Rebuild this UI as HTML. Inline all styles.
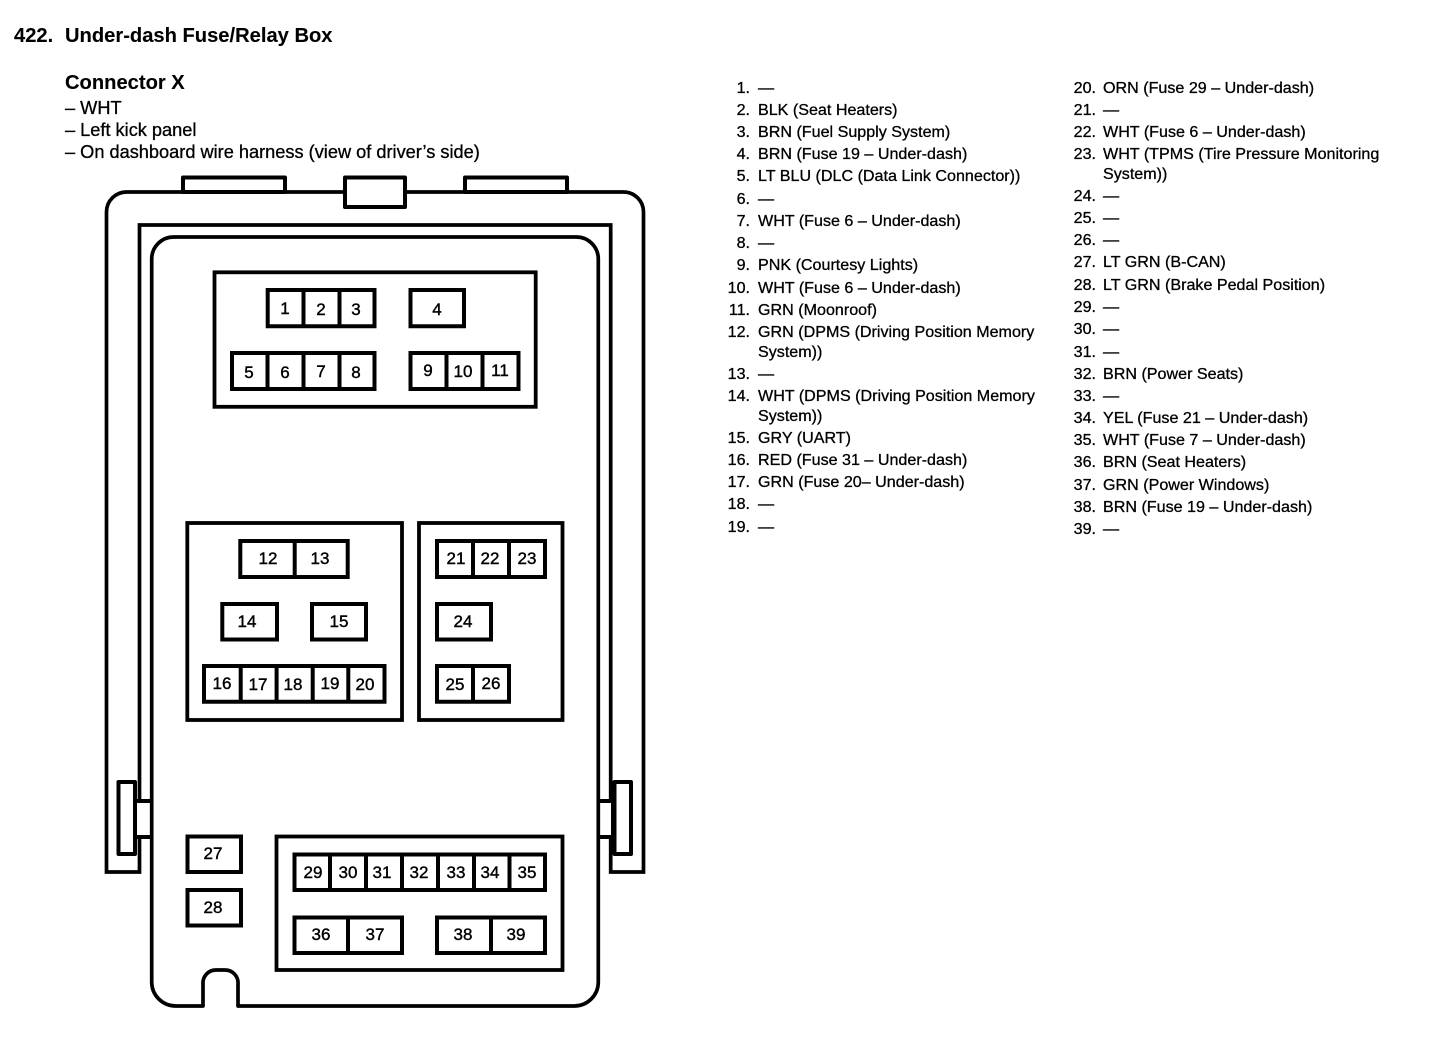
<!DOCTYPE html>
<html lang="en">
<head>
<meta charset="utf-8">
<title>422. Under-dash Fuse/Relay Box</title>
<style>
html,body{margin:0;padding:0;background:#fff;width:1440px;height:1040px;overflow:hidden}
svg{display:block}
text{font-family:"Liberation Sans",Arial,sans-serif;fill:#000;stroke:#000;stroke-width:.3px}
.l{font-size:16.1px}
.m{font-size:18.2px}
.n{font-size:16.1px;text-anchor:end}
.h{font-size:20.15px;font-weight:bold;stroke-width:.1px}
.p{font-size:17px;text-anchor:middle;stroke-width:.4px}
.s{fill:#fff;stroke:#000;stroke-width:3.7;stroke-linejoin:round}
.c{fill:#fff;stroke:#000;stroke-width:4;stroke-linejoin:round}
.d{fill:none;stroke:#000;stroke-width:4}
.g{fill:none;stroke:#000;stroke-width:3.8}
.o{fill:none;stroke:#000;stroke-width:3.7}
</style>
</head>
<body>
<svg width="1440" height="1040" viewBox="0 0 1440 1040" xmlns="http://www.w3.org/2000/svg">
<!-- Housing -->
<path class="c" d="M183 192V177.500H285V192Z"/>
<path class="c" d="M465 192V177.500H567V192Z"/>
<path class="o" d="M106.500 872V212A20 20 0 0 1 126.500 192H623.500A20 20 0 0 1 643.500 212V872H610.700V225H139.500V872Z"/>
<path class="c" d="M345 177.500H405V207H345Z"/>
<!-- Side clips -->
<rect class="c" x="135" y="801" width="17" height="36"/>
<rect class="c" x="598" y="801" width="15" height="36"/>
<rect class="c" x="118.500" y="782" width="16.500" height="72"/>
<rect class="c" x="614.500" y="782" width="16.500" height="72"/>
<!-- Inner panel -->
<path class="s" d="M151.700 259A22 22 0 0 1 173.700 237H576.300A22 22 0 0 1 598.300 259V982A24 24 0 0 1 574.300 1006H238V984A13 13 0 0 0 225 970H216A13 13 0 0 0 203 984V1006H175.700A24 24 0 0 1 151.700 982Z"/>
<!-- Groups -->
<rect class="g" x="214.500" y="272.300" width="321.200" height="134.500"/>
<rect class="g" x="187.300" y="523" width="214.700" height="197"/>
<rect class="g" x="419" y="523" width="143.500" height="197"/>
<rect class="g" x="276.500" y="836.500" width="286" height="133.500"/>
<!-- Connectors -->
<path class="d" d="M267.700 290H374.500V326.300H267.700ZM303.500 290V326.300M339.500 290V326.300"/>
<path class="d" d="M410.500 290H464V326.300H410.500Z"/>
<path class="d" d="M232 353H374.500V389H232ZM267.500 353V389M303.500 353V389M339.500 353V389"/>
<path class="d" d="M410.500 353H518.500V389H410.500ZM446.500 353V389M482.500 353V389"/>
<path class="d" d="M240.300 541H347.700V577H240.300ZM294.700 541V577"/>
<path class="d" d="M222.300 604H277V639.500H222.300Z"/>
<path class="d" d="M312 604H366V639.500H312Z"/>
<path class="d" d="M204 666H384.500V701.700H204ZM240.700 666V701.700M276.600 666V701.700M312.700 666V701.700M348.300 666V701.700"/>
<path class="d" d="M437 541H545V577H437ZM473 541V577M509 541V577"/>
<path class="d" d="M437 604H491V639.500H437Z"/>
<path class="d" d="M437 666H509V701.700H437ZM473 666V701.700"/>
<path class="d" d="M187.500 836.500H241V872H187.500Z"/>
<path class="d" d="M187.500 890H241V925.500H187.500Z"/>
<path class="d" d="M294.500 854.500H545V890H294.500ZM330 854.500V890M366 854.500V890M402 854.500V890M438 854.500V890M474 854.500V890M509.500 854.500V890"/>
<path class="d" d="M294.500 917.500H402V953H294.500ZM348 917.500V953"/>
<path class="d" d="M437 917.500H545V953H437ZM491 917.500V953"/>
<!-- Pin numbers -->
<g>
<text class="p" x="285" y="314">1</text><text class="p" x="321" y="315">2</text><text class="p" x="356" y="315">3</text><text class="p" x="437" y="315">4</text>
<text class="p" x="249" y="378">5</text><text class="p" x="285" y="378">6</text><text class="p" x="321" y="377">7</text><text class="p" x="356" y="378">8</text>
<text class="p" x="428" y="376">9</text><text class="p" x="463" y="377">10</text><text class="p" x="500" y="376">11</text>
<text class="p" x="268" y="564">12</text><text class="p" x="320" y="564">13</text><text class="p" x="247" y="627">14</text><text class="p" x="339" y="627">15</text>
<text class="p" x="222" y="689">16</text><text class="p" x="258" y="690">17</text><text class="p" x="293" y="690">18</text><text class="p" x="330" y="689">19</text><text class="p" x="365" y="690">20</text>
<text class="p" x="456" y="564">21</text><text class="p" x="490" y="564">22</text><text class="p" x="527" y="564">23</text><text class="p" x="463" y="627">24</text>
<text class="p" x="455" y="690">25</text><text class="p" x="491" y="689">26</text>
<text class="p" x="213" y="859">27</text><text class="p" x="213" y="913">28</text>
<text class="p" x="313" y="878">29</text><text class="p" x="348" y="878">30</text><text class="p" x="382" y="878">31</text><text class="p" x="419" y="878">32</text><text class="p" x="456" y="878">33</text><text class="p" x="490" y="878">34</text><text class="p" x="527" y="878">35</text>
<text class="p" x="321" y="940">36</text><text class="p" x="375" y="940">37</text><text class="p" x="463" y="940">38</text><text class="p" x="516" y="940">39</text>
</g>
<!-- Headings -->
<text class="h" x="14" y="42">422.</text>
<text class="h" x="65" y="42">Under-dash Fuse/Relay Box</text>
<text class="h" x="65" y="89">Connector X</text>
<text class="m" x="65" y="114">– WHT</text>
<text class="m" x="65" y="136">– Left kick panel</text>
<text class="m" x="65" y="158">– On dashboard wire harness (view of driver’s side)</text>
<!-- Left list -->
<g>
<text class="n" x="750" y="93">1.</text><text class="l" x="758" y="93">—</text>
<text class="n" x="750" y="115">2.</text><text class="l" x="758" y="115">BLK (Seat Heaters)</text>
<text class="n" x="750" y="137">3.</text><text class="l" x="758" y="137">BRN (Fuel Supply System)</text>
<text class="n" x="750" y="159">4.</text><text class="l" x="758" y="159">BRN (Fuse 19 – Under-dash)</text>
<text class="n" x="750" y="181">5.</text><text class="l" x="758" y="181">LT BLU (DLC (Data Link Connector))</text>
<text class="n" x="750" y="204">6.</text><text class="l" x="758" y="204">—</text>
<text class="n" x="750" y="226">7.</text><text class="l" x="758" y="226">WHT (Fuse 6 – Under-dash)</text>
<text class="n" x="750" y="248">8.</text><text class="l" x="758" y="248">—</text>
<text class="n" x="750" y="270">9.</text><text class="l" x="758" y="270">PNK (Courtesy Lights)</text>
<text class="n" x="750" y="293">10.</text><text class="l" x="758" y="293">WHT (Fuse 6 – Under-dash)</text>
<text class="n" x="750" y="315">11.</text><text class="l" x="758" y="315">GRN (Moonroof)</text>
<text class="n" x="750" y="337">12.</text><text class="l" x="758" y="337">GRN (DPMS (Driving Position Memory</text>
<text class="l" x="758" y="357">System))</text>
<text class="n" x="750" y="379">13.</text><text class="l" x="758" y="379">—</text>
<text class="n" x="750" y="401">14.</text><text class="l" x="758" y="401">WHT (DPMS (Driving Position Memory</text>
<text class="l" x="758" y="421">System))</text>
<text class="n" x="750" y="443">15.</text><text class="l" x="758" y="443">GRY (UART)</text>
<text class="n" x="750" y="465">16.</text><text class="l" x="758" y="465">RED (Fuse 31 – Under-dash)</text>
<text class="n" x="750" y="487">17.</text><text class="l" x="758" y="487">GRN (Fuse 20– Under-dash)</text>
<text class="n" x="750" y="509">18.</text><text class="l" x="758" y="509">—</text>
<text class="n" x="750" y="532">19.</text><text class="l" x="758" y="532">—</text>
</g>
<!-- Right list -->
<g>
<text class="n" x="1096" y="93">20.</text><text class="l" x="1103" y="93">ORN (Fuse 29 – Under-dash)</text>
<text class="n" x="1096" y="115">21.</text><text class="l" x="1103" y="115">—</text>
<text class="n" x="1096" y="137">22.</text><text class="l" x="1103" y="137">WHT (Fuse 6 – Under-dash)</text>
<text class="n" x="1096" y="159">23.</text><text class="l" x="1103" y="159">WHT (TPMS (Tire Pressure Monitoring</text>
<text class="l" x="1103" y="179">System))</text>
<text class="n" x="1096" y="201">24.</text><text class="l" x="1103" y="201">—</text>
<text class="n" x="1096" y="223">25.</text><text class="l" x="1103" y="223">—</text>
<text class="n" x="1096" y="245">26.</text><text class="l" x="1103" y="245">—</text>
<text class="n" x="1096" y="267">27.</text><text class="l" x="1103" y="267">LT GRN (B-CAN)</text>
<text class="n" x="1096" y="290">28.</text><text class="l" x="1103" y="290">LT GRN (Brake Pedal Position)</text>
<text class="n" x="1096" y="312">29.</text><text class="l" x="1103" y="312">—</text>
<text class="n" x="1096" y="334">30.</text><text class="l" x="1103" y="334">—</text>
<text class="n" x="1096" y="357">31.</text><text class="l" x="1103" y="357">—</text>
<text class="n" x="1096" y="379">32.</text><text class="l" x="1103" y="379">BRN (Power Seats)</text>
<text class="n" x="1096" y="401">33.</text><text class="l" x="1103" y="401">—</text>
<text class="n" x="1096" y="423">34.</text><text class="l" x="1103" y="423">YEL (Fuse 21 – Under-dash)</text>
<text class="n" x="1096" y="445">35.</text><text class="l" x="1103" y="445">WHT (Fuse 7 – Under-dash)</text>
<text class="n" x="1096" y="467">36.</text><text class="l" x="1103" y="467">BRN (Seat Heaters)</text>
<text class="n" x="1096" y="490">37.</text><text class="l" x="1103" y="490">GRN (Power Windows)</text>
<text class="n" x="1096" y="512">38.</text><text class="l" x="1103" y="512">BRN (Fuse 19 – Under-dash)</text>
<text class="n" x="1096" y="534">39.</text><text class="l" x="1103" y="534">—</text>
</g>
</svg>
</body>
</html>
